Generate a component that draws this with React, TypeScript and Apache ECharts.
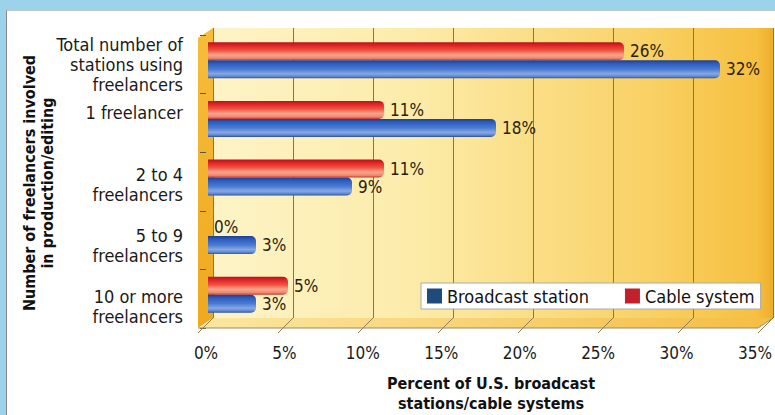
import React, { useEffect, useRef } from "react";
import * as echarts from "echarts";

const categories = [
  "Total number of\nstations using\nfreelancers",
  "1 freelancer",
  "2 to 4\nfreelancers",
  "5 to 9\nfreelancers",
  "10 or more\nfreelancers",
];
const cableValues = [26, 11, 11, 0, 5];
const broadcastValues = [32, 18, 9, 3, 3];
const xTicks = [0, 5, 10, 15, 20, 25, 30, 35];
const seriesNames = ["Broadcast station", "Cable system"];

// layout-only: vertical nudges of category labels (px)
const labelShift = [0, -10, 3, 5, 8];

const FONT = '"Liberation Sans Narrow", "DejaVu Sans Condensed", "Roboto Condensed", "Liberation Sans", sans-serif';
const CAT_FS = 18;
const CAT_LH = 20;

export default function App() {
  const ref = useRef<HTMLDivElement>(null);

  useEffect(() => {
    if (!ref.current) return;
    const chart = echarts.init(ref.current, null, { renderer: "svg" });

    const redGrad = new echarts.graphic.LinearGradient(0, 0, 0, 1, [
      { offset: 0, color: "#b3141a" },
      { offset: 0.2, color: "#e3262a" },
      { offset: 0.45, color: "#ee5540" },
      { offset: 0.7, color: "#f7a48c" },
      { offset: 0.88, color: "#f08a6e" },
      { offset: 1, color: "#c9352c" },
    ]);
    const blueGrad = new echarts.graphic.LinearGradient(0, 0, 0, 1, [
      { offset: 0, color: "#1d3f94" },
      { offset: 0.2, color: "#2f5fc0" },
      { offset: 0.5, color: "#4b7bd2" },
      { offset: 0.75, color: "#86a8e4" },
      { offset: 0.9, color: "#5f86d0" },
      { offset: 1, color: "#2c4fa0" },
    ]);

    const floorTicks = xTicks.map((v) => ({
      type: "line",
      z: 1,
      shape: { x1: 213 + 16 * v, y1: 318, x2: 198 + 16 * v, y2: 333 },
      style: { stroke: "#8c7c55", lineWidth: 1 },
    }));

    const baseRich = { fontSize: CAT_FS, lineHeight: CAT_LH, fontFamily: FONT, color: "#1a1a1a" };
    const rich: any = {};
    labelShift.forEach((s, i) => {
      const top = s > 0 ? 2 * s : 0;
      const bottom = s < 0 ? -2 * s : 0;
      rich["p" + i] = { ...baseRich, padding: [top, 0, bottom, 0] };
    });
    const catFormatter = (value: string, index: number) =>
      value
        .split("\n")
        .map((ln) => `{p${index}|${ln}}`)
        .join("\n");

    const option: any = {
      animation: false,
      textStyle: { fontFamily: FONT },
      grid: [
        { left: 208, width: 560, top: 31, height: 293 },
        {
          left: 213,
          width: 560,
          top: 28,
          height: 290,
          show: true,
          borderWidth: 0,
          backgroundColor: new echarts.graphic.LinearGradient(0, 0, 1, 0, [
            { offset: 0, color: "#fdf3c6" },
            { offset: 0.35, color: "#fcecaa" },
            { offset: 0.75, color: "#f9d36a" },
            { offset: 0.97, color: "#f6c040" },
            { offset: 1, color: "#eead2c" },
          ]),
        },
        { left: 206, width: 551, top: 35, height: 293 },
      ],
      xAxis: [
        { gridIndex: 0, type: "value", min: 0, max: 35, interval: 5, show: false },
        {
          gridIndex: 1,
          type: "value",
          min: 0,
          max: 35,
          interval: 5,
          axisLabel: { show: false },
          axisLine: { show: false },
          axisTick: { show: false },
          splitLine: { show: true, lineStyle: { color: "#857552", width: 1 } },
        },
        {
          gridIndex: 2,
          type: "value",
          min: 0,
          max: 35,
          interval: 5,
          axisLabel: { formatter: "{value}%", fontSize: 17, color: "#1a1a1a", margin: 16, fontFamily: FONT },
          axisLine: { show: false },
          axisTick: { show: false },
          splitLine: { show: false },
        },
      ],
      yAxis: [
        { gridIndex: 0, type: "category", inverse: true, data: categories, show: false },
        { gridIndex: 1, type: "value", show: false },
        {
          gridIndex: 2,
          type: "category",
          inverse: true,
          data: categories,
          axisLine: { show: false },
          axisTick: { show: true, length: 6, lineStyle: { color: "#555" } },
          axisLabel: {
            fontSize: CAT_FS,
            lineHeight: CAT_LH,
            margin: 23,
            color: "#1a1a1a",
            fontFamily: FONT,
            formatter: catFormatter,
            rich,
          },
          splitLine: { show: false },
        },
      ],
      legend: {
        data: [
          { name: seriesNames[0], itemStyle: { color: "#1d4c7c" } },
          { name: seriesNames[1], itemStyle: { color: "#c4202b" } },
        ],
        left: 421,
        top: 283,
        orient: "horizontal",
        icon: "rect",
        itemWidth: 15,
        itemHeight: 15,
        itemGap: 36,
        padding: [4, 6, 4, 6],
        backgroundColor: "#ffffff",
        borderColor: "#aaaaaa",
        borderWidth: 1,
        textStyle: { fontSize: 18, color: "#111", fontFamily: FONT },
      },
      graphic: [
        {
          type: "polygon",
          z: 0,
          shape: { points: [[198, 38], [213, 28], [213, 318], [198, 328]] },
          style: {
            fill: new echarts.graphic.LinearGradient(0, 0, 0, 1, [
              { offset: 0, color: "#f6bd3a" },
              { offset: 1, color: "#f0a820" },
            ]),
          },
        },
        {
          type: "polygon",
          z: 0,
          shape: { points: [[198, 328], [213, 318], [773, 318], [758, 328]] },
          style: {
            fill: new echarts.graphic.LinearGradient(0, 0, 1, 0, [
              { offset: 0, color: "#fbe7a2" },
              { offset: 1, color: "#f4bd44" },
            ]),
          },
        },
        {
          type: "line",
          z: 1,
          shape: { x1: 198, y1: 328, x2: 758, y2: 328 },
          style: { stroke: "#9a8a60", lineWidth: 1 },
        },
        {
          type: "line",
          z: 1,
          shape: { x1: 758, y1: 328, x2: 773, y2: 318 },
          style: { stroke: "#9a8a60", lineWidth: 1 },
        },
        ...floorTicks,
        {
          type: "text",
          z: 5,
          x: 491,
          y: 373,
          style: {
            text: "Percent of U.S. broadcast\nstations/cable systems",
            font: `bold 16px ${FONT}`,
            fill: "#111",
            align: "center",
            verticalAlign: "top",
            lineHeight: 20,
          },
        },
        {
          type: "text",
          z: 5,
          x: 38,
          y: 183,
          rotation: Math.PI / 2,
          style: {
            text: "Number of freelancers involved\nin production/editing",
            font: `bold 16px ${FONT}`,
            fill: "#111",
            align: "center",
            verticalAlign: "middle",
            lineHeight: 18,
          },
        },
      ],
      series: [
        {
          name: seriesNames[1],
          type: "bar",
          xAxisIndex: 0,
          yAxisIndex: 0,
          data: cableValues,
          barWidth: 18,
          barGap: "0%",
          itemStyle: { color: redGrad, borderRadius: [0, 5, 5, 0] },
          label: {
            show: true,
            position: "right",
            distance: 6,
            formatter: "{c}%",
            fontSize: 17,
            color: "#2b1d0e",
            fontFamily: FONT,
          },
        },
        {
          name: seriesNames[0],
          type: "bar",
          xAxisIndex: 0,
          yAxisIndex: 0,
          data: broadcastValues,
          barWidth: 18,
          barGap: "0%",
          itemStyle: { color: blueGrad, borderRadius: [0, 5, 5, 0] },
          label: {
            show: true,
            position: "right",
            distance: 6,
            formatter: "{c}%",
            fontSize: 17,
            color: "#2b1d0e",
            fontFamily: FONT,
          },
        },
      ],
    };

    chart.setOption(option);
    return () => chart.dispose();
  }, []);

  return (
    <div style={{ position: "absolute", left: 0, top: 0, width: 775, height: 415, background: "#9dd3ea", overflow: "hidden" }}>
      <div
        style={{
          position: "absolute",
          left: 6,
          top: 10,
          right: 0,
          bottom: 0,
          background: "#ffffff",
          borderLeft: "1px solid #8a8a8a",
          borderTop: "1px solid #b8c8d0",
        }}
      />
      <div ref={ref} style={{ position: "absolute", left: 0, top: 0, width: 775, height: 415 }} />
    </div>
  );
}
